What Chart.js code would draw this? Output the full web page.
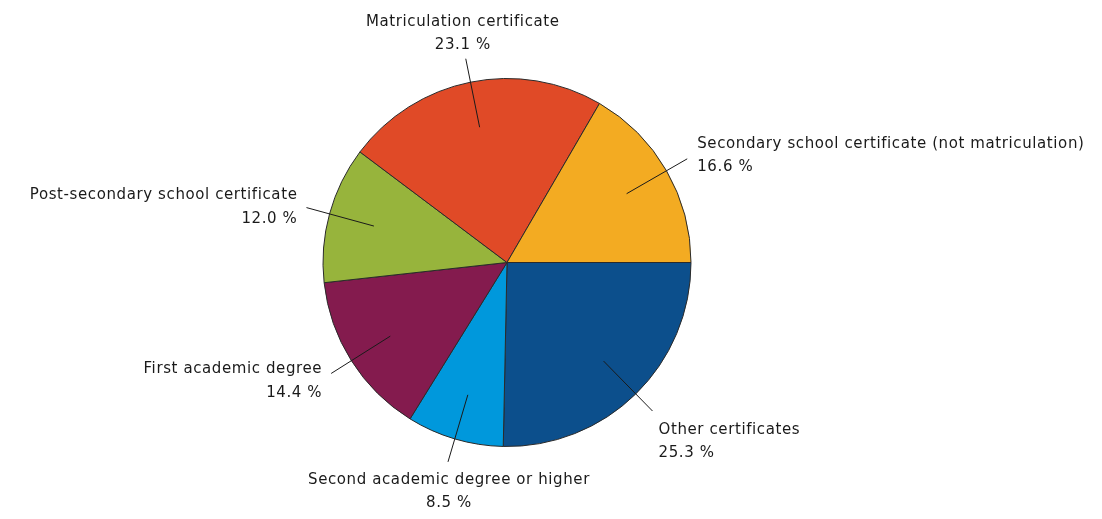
<!DOCTYPE html>
<html>
<head>
<meta charset="utf-8">
<script src="https://cdn.jsdelivr.net/npm/chart.js@4.4.1/dist/chart.umd.min.js"></script>
<style>
  html, body { margin: 0; padding: 0; background: #ffffff; }
  #wrap { width: 1102px; height: 519px; }
</style>
</head>
<body>
<div id="wrap"><canvas id="c" width="1102" height="519"></canvas></div>
<script>
const categories = [
  "Other certificates",
  "Second academic degree or higher",
  "First academic degree",
  "Post-secondary school certificate",
  "Matriculation certificate",
  "Secondary school certificate (not matriculation)"
];
const shares = [25.3, 8.5, 14.4, 12.0, 23.1, 16.6];
const valueLabels = ["25.3 %", "8.5 %", "14.4 %", "12.0 %", "23.1 %", "16.6 %"];
const sliceColors = ["#0c4f8c", "#0098dc", "#841b4e", "#97b43c", "#e04a27", "#f3ab22"];

const FONT = "15px 'DejaVu Sans', Verdana, sans-serif";
const LINE_H = 23.5;

const labelPlugin = {
  id: 'pieLabels',
  afterDatasetsDraw(chart) {
    const ctx = chart.ctx;
    const meta = chart.getDatasetMeta(0);
    ctx.save();
    ctx.font = FONT;
    try { ctx.letterSpacing = '0.6px'; } catch (e) {}
    ctx.fillStyle = '#1a1a1a';
    ctx.strokeStyle = '#1a1a1a';
    ctx.lineWidth = 1;
    meta.data.forEach((arc, i) => {
      const p = arc.getProps(['x', 'y', 'startAngle', 'endAngle', 'outerRadius'], true);
      const mid = (p.startAngle + p.endAngle) / 2;
      const c = Math.cos(mid), s = Math.sin(mid);
      const r = p.outerRadius;
      const x1 = p.x + c * r * 0.75, y1 = p.y + s * r * 0.75;
      const x2 = p.x + c * r * 1.13, y2 = p.y + s * r * 1.13;
      ctx.beginPath();
      ctx.moveTo(x1, y1);
      ctx.lineTo(x2, y2);
      ctx.stroke();

      const lines = [categories[i], valueLabels[i]];
      let tx, ty0, align;
      if (Math.abs(s) > 0.9) {
        align = 'center';
        if (s < 0) { tx = x2 - 3; ty0 = y2 - 37; }
        else { tx = x2 + 1; ty0 = y2 + 18; }
      } else {
        align = c > 0 ? 'left' : 'right';
        if (s > 0.6) { tx = x2 + 6; ty0 = y2 + 19; }
        else if (s > 0.3) { tx = c > 0 ? x2 + 6 : x2 - 9; ty0 = y2 - 4; }
        else if (c > 0) { tx = x2 + 10; ty0 = y2 - 15; }
        else { tx = x2 - 9; ty0 = y2 - 12; }
      }
      ctx.textAlign = align;
      ctx.textBaseline = 'middle';
      lines.forEach((t, k) => ctx.fillText(t, tx, ty0 + k * LINE_H));
    });
    ctx.restore();
  }
};

new Chart(document.getElementById('c'), {
  type: 'pie',
  data: {
    labels: categories,
    datasets: [{
      data: shares,
      backgroundColor: sliceColors,
      borderColor: '#2a2a2a',
      borderWidth: 1
    }]
  },
  options: {
    responsive: false,
    animation: false,
    rotation: 90,
    layout: { padding: { left: 0, right: 88, top: 78, bottom: 72 } },
    plugins: {
      legend: { display: false },
      tooltip: { enabled: false }
    }
  },
  plugins: [labelPlugin]
});
</script>
</body>
</html>
